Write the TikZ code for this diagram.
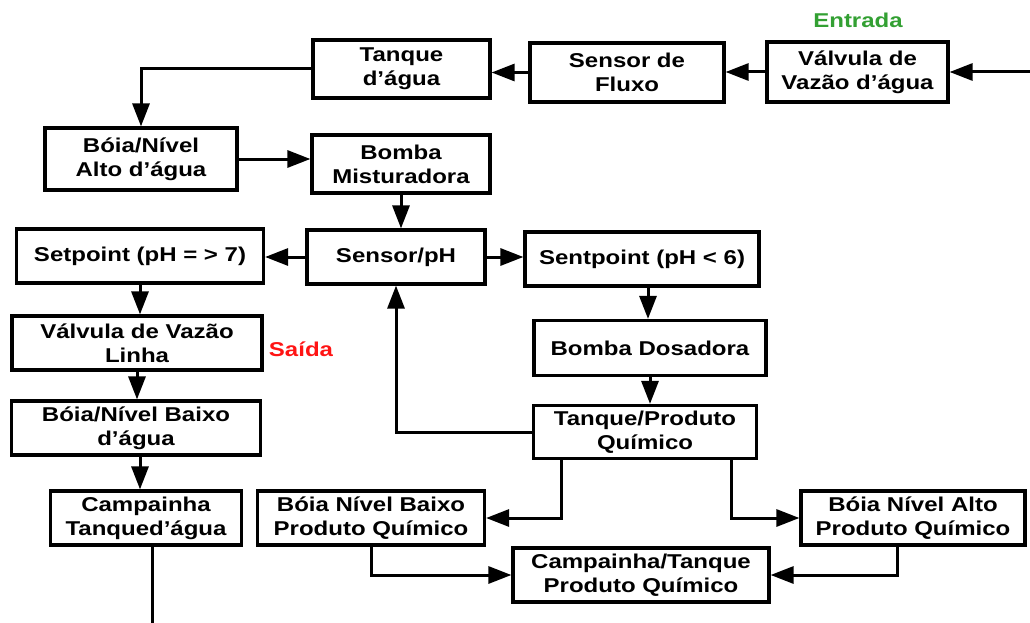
\documentclass[tikz,border=0pt]{standalone}
\usepackage{fontspec}
\setmainfont{Liberation Sans}[FakeStretch=1.2]
\usetikzlibrary{arrows.meta,calc}
\definecolor{entgreen}{RGB}{51,160,51}
\definecolor{saired}{RGB}{255,20,20}
\begin{document}
\begin{tikzpicture}[x=1pt,y=-1pt,
  bx/.style={draw=black,line width=3.2pt,rectangle,inner sep=0pt,align=center,
    font=\fontsize{20}{24}\selectfont\bfseries},
  arr/.style={line width=3pt,-{Triangle[length=23pt,width=17pt]}},
  ln/.style={line width=3pt},
  lbl/.style={font=\fontsize{20}{24}\selectfont\bfseries,inner sep=0pt}]
\useasboundingbox (0,0) rectangle (1030,623);
\node[bx,minimum width=177pt,minimum height=58pt] (ta) at (401.5,69) {Tanque\\d’água};
\node[bx,minimum width=194pt,minimum height=59pt] (sf) at (627,72.5) {Sensor de\\Fluxo};
\node[bx,minimum width=181pt,minimum height=60pt] (vv) at (857.5,72) {Válvula de\\Vazão d’água};
\node[bx,minimum width=192pt,minimum height=62pt] (ba) at (141,159) {Bóia/Nível\\Alto d’água};
\node[bx,minimum width=178pt,minimum height=58pt] (bm) at (401,164) {Bomba\\Misturadora};
\node[bx,minimum width=247pt,minimum height=54pt] (sp) at (140,256) {Setpoint (pH = > 7)};
\node[bx,minimum width=178pt,minimum height=54pt] (sph) at (396,257) {Sensor/pH};
\node[bx,minimum width=234pt,minimum height=54pt] (st) at (642,259) {Sentpoint (pH < 6)};
\node[bx,minimum width=250pt,minimum height=54pt] (vl) at (137,343) {Válvula de Vazão\\Linha};
\node[bx,minimum width=232pt,minimum height=55pt] (bd) at (650,348) {Bomba Dosadora};
\node[bx,minimum width=249pt,minimum height=54pt] (bb) at (136,428) {Bóia/Nível Baixo\\d’água};
\node[bx,minimum width=223pt,minimum height=53pt] (tp) at (645,432) {Tanque/Produto\\Químico};
\node[bx,minimum width=191pt,minimum height=54pt] (ct) at (146,518) {Campainha\\Tanqued’água};
\node[bx,minimum width=227pt,minimum height=54pt] (bbp) at (371,518) {Bóia Nível Baixo\\Produto Químico};
\node[bx,minimum width=224pt,minimum height=54pt] (bap) at (913,518) {Bóia Nível Alto\\Produto Químico};
\node[bx,minimum width=256pt,minimum height=54pt] (cpq) at (641,575) {Campainha/Tanque\\Produto Químico};
\node[lbl,text=entgreen] (ent) at (858,20) {Entrada};
\node[lbl,text=saired] (sai) at (301,349) {Saída};
\coordinate (in) at (1030,72);
\coordinate (out) at (152,623);
% connectors
\draw[arr] (in) -- (vv.east);
\draw[arr] (vv.west) -- (vv.west -| sf.east);
\draw[arr] (sf.west) -- (sf.west -| ta.east);
\draw[arr] (ta.west) -| (ba.north);
\draw[arr] (ba.east) -- (ba.east -| bm.west);
\draw[arr] (bm.south) -- (bm.south |- sph.north);
\draw[arr] (sph.west) -- (sph.west -| sp.east);
\draw[arr] (sph.east) -- (sph.east -| st.west);
\draw[arr] (sp.south) -- (sp.south |- vl.north);
\draw[arr] (vl.south) -- (vl.south |- bb.north);
\draw[arr] ([xshift=4pt]bb.south) -- ([xshift=4pt]bb.south |- ct.north);
\draw[ln] (ct.south -| out) -- (out);
\draw[arr] ([xshift=6pt]st.south) -- ([xshift=6pt]st.south |- bd.north);
\draw[arr] (bd.south) -- (bd.south |- tp.north);
\draw[arr] (tp.west) -| (sph.south);
\draw[arr] ([xshift=-84pt]tp.south) |- (bbp.east);
\draw[arr] ([xshift=86pt]tp.south) |- (bap.west);
\draw[arr] (bbp.south) |- (cpq.west);
\draw[arr] ([xshift=-16pt]bap.south) |- (cpq.east);
\end{tikzpicture}
\end{document}
